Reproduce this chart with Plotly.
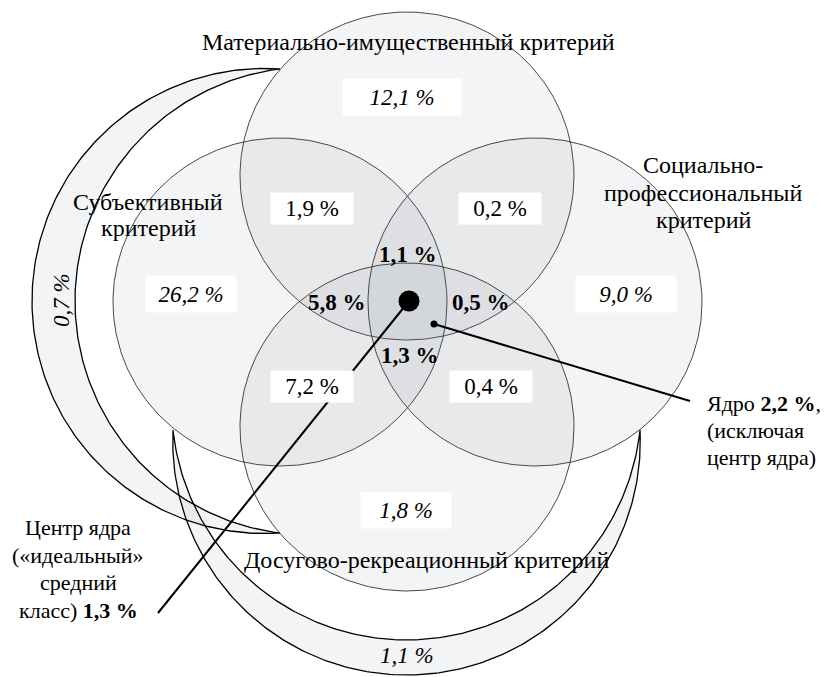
import numpy as np
import plotly.graph_objects as go

# ---------------- data ----------------
criteria_lines = [["Материально-имущественный критерий"],
                  ["Субъективный", "критерий"],
                  ["Социально-", "профессиональный", "критерий"],
                  ["Досугово-рекреационный критерий"]]
region_names = ["Материальный", "Мат.+Субъ.", "Мат.+Соц.", "Субъективный", "Социальный",
                "Субъ.+Досуг", "Соц.+Досуг", "Досуговый"]
region_values = [12.1, 1.9, 0.2, 26.2, 9.0, 7.2, 0.4, 1.8]
region_italic = [True, False, False, True, True, False, False, True]
core_names = ["top", "left", "right", "bottom"]
core_values = [1.1, 5.8, 0.5, 1.3]
crescent_values = [0.7, 1.1]
core_total = 2.2
core_center = 1.3

def fmt(v):
    return f"{v:.1f}".replace(".", ",") + " %"

core_lines = [f"Ядро <b>{fmt(core_total)}</b>,", "(исключая", "центр ядра)"]
center_lines = ["Центр ядра", "(«идеальный»", "средний", f"класс) <b>{fmt(core_center)}</b>"]

# ---------------- geometry (page pixel space) ----------------
W, H = 830, 677
OFF = 8  # default page body margin
RX, RY = 167, 164
centers = [(407, 176), (280, 302), (535, 302), (407, 427)]
FILL = "rgba(100,110,130,0.08)"

def ellipse(cx, cy, rx, ry, n=360):
    t = np.linspace(0, 2 * np.pi, n)
    return cx + rx * np.cos(t), cy + ry * np.sin(t)

def circ3(p1, p2, p3):
    ax, ay = p1; bx, by = p2; cx, cy = p3
    d = 2 * (ax * (by - cy) + bx * (cy - ay) + cx * (ay - by))
    ux = ((ax**2 + ay**2) * (by - cy) + (bx**2 + by**2) * (cy - ay) + (cx**2 + cy**2) * (ay - by)) / d
    uy = ((ax**2 + ay**2) * (cx - bx) + (bx**2 + by**2) * (ax - cx) + (cx**2 + cy**2) * (bx - ax)) / d
    return ux, uy, np.hypot(ax - ux, ay - uy)

def arc3(p1, pm, p2, n=200):
    ux, uy, r = circ3(p1, pm, p2)
    a1 = np.arctan2(p1[1] - uy, p1[0] - ux)
    am = np.arctan2(pm[1] - uy, pm[0] - ux)
    a2 = np.arctan2(p2[1] - uy, p2[0] - ux)
    d2 = (a2 - a1) % (2 * np.pi)
    dm = (am - a1) % (2 * np.pi)
    sweep = d2 if dm < d2 else d2 - 2 * np.pi
    t = a1 + np.linspace(0, sweep, n)
    return ux + r * np.cos(t), uy + r * np.sin(t)

fig = go.Figure()

# outer crescents
crescents = [
    ((280, 69), (32, 301), (75, 301), (280, 533)),
    ((173, 430), (407, 675), (407, 640), (640, 430)),
]
for s, mo, mi, e in crescents:
    ox, oy = arc3(s, mo, e)
    ix, iy = arc3(e, mi, s)
    fig.add_trace(go.Scatter(x=np.concatenate([ox, ix]), y=np.concatenate([oy, iy]),
                             mode="lines", fill="toself", fillcolor=FILL,
                             line=dict(color="black", width=1.3), hoverinfo="skip"))

# the four criterion circles
for cx, cy in centers:
    x, y = ellipse(cx, cy, RX, RY)
    fig.add_trace(go.Scatter(x=x, y=y, mode="lines", fill="toself", fillcolor=FILL,
                             line=dict(color="#333333", width=0.9), hoverinfo="skip"))

# pointer lines and dots
fig.add_trace(go.Scatter(x=[409, 158], y=[301, 613], mode="lines",
                         line=dict(color="black", width=2), hoverinfo="skip"))
fig.add_trace(go.Scatter(x=[434, 690], y=[324, 401], mode="lines",
                         line=dict(color="black", width=2), hoverinfo="skip"))
fig.add_trace(go.Scatter(x=[409], y=[301], mode="markers",
                         marker=dict(color="black", size=21), hoverinfo="skip"))
fig.add_trace(go.Scatter(x=[434], y=[324], mode="markers",
                         marker=dict(color="black", size=7), hoverinfo="skip"))

FONT = "Liberation Serif, Times New Roman, serif"
FS_T = 24   # criterion titles
FS_C = 22   # callouts
FS_V = 23   # values

def txt(x, y, s, size, **kw):
    fig.add_annotation(x=x, y=y, text=s, showarrow=False,
                       font=dict(family=FONT, size=size, color="black"), **kw)

# boxed region labels
box_pos = [(402, 97, 118, 36), (312, 208, 82, 31), (500, 208, 82, 31), (191, 294, 90, 36),
           (626, 294, 100, 36), (312, 386, 82, 31), (491, 386, 82, 31), (406, 510, 90, 35)]
for v, it, (x, y, w, h) in zip(region_values, region_italic, box_pos):
    s = f"<i>{fmt(v)}</i>" if it else fmt(v)
    txt(x, y, s, FS_V, bgcolor="white", width=w, height=h, borderpad=0)

# core labels (bold)
core_pos = [(408, 254), (337, 302), (481, 302), (410, 355)]
for v, (x, y) in zip(core_values, core_pos):
    txt(x, y, f"<b>{fmt(v)}</b>", FS_V)

# crescent labels
txt(61, 300, f"<i>{fmt(crescent_values[0])}</i>", FS_V, textangle=-90)
txt(407, 655, f"<i>{fmt(crescent_values[1])}</i>", FS_V)

# criterion titles (one annotation per line)
title_xy = [(408, [42]), (148, [202, 228]), (703, [165, 193, 220]), (426, [560])]
for lines, (x, ys) in zip(criteria_lines, title_xy):
    for s, y in zip(lines, ys):
        txt(x, y, s, FS_T)

# callout texts
for s, y in zip(core_lines, [403, 430, 457]):
    txt(705, y, s, FS_C, xanchor="left")
for s, y in zip(center_lines, [527, 555, 582, 610]):
    txt(78, y, s, FS_C)

fig.update_layout(
    width=W - OFF, height=H - OFF, margin=dict(l=0, r=0, t=0, b=0),
    paper_bgcolor="white", plot_bgcolor="white", showlegend=False,
    xaxis=dict(range=[OFF, W], visible=False, fixedrange=True),
    yaxis=dict(range=[H, OFF], visible=False, fixedrange=True),
)
fig.write_html("out.html")
